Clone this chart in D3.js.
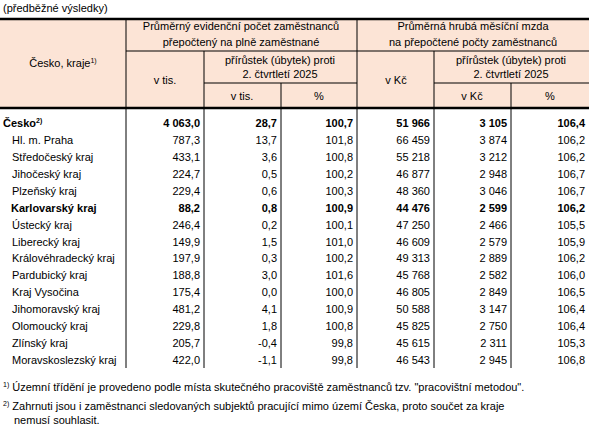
<!DOCTYPE html>
<html><head><meta charset="utf-8">
<script src="https://cdn.jsdelivr.net/npm/d3@7"></script>
<style>body{margin:0;background:#fff}text{font-family:"Liberation Sans",Arial,sans-serif;font-size:11px;fill:#000}</style>
</head><body>
<script>
// data
const regions = ["Česko", "Hl. m. Praha", "Středočeský kraj", "Jihočeský kraj", "Plzeňský kraj", "Karlovarský kraj",
  "Ústecký kraj", "Liberecký kraj", "Královéhradecký kraj", "Pardubický kraj", "Kraj Vysočina",
  "Jihomoravský kraj", "Olomoucký kraj", "Zlínský kraj", "Moravskoslezský kraj"];
const boldRows = ["Česko", "Karlovarský kraj"];
const empTotal = ["4 063,0","787,3","433,1","224,7","229,4","88,2","246,4","149,9","197,9","188,8","175,4","481,2","229,8","205,7","422,0"];
const empDiff = ["28,7","13,7","3,6","0,5","0,6","0,8","0,2","1,5","0,3","3,0","0,0","4,1","1,8","-0,4","-1,1"];
const empPct = ["100,7","101,8","100,8","100,2","100,3","100,9","100,1","101,0","100,2","101,6","100,0","100,9","100,8","99,8","99,8"];
const wage = ["51 966","66 459","55 218","46 877","48 360","44 476","47 250","46 609","49 313","45 768","46 805","50 588","45 825","45 615","46 543"];
const wageDiff = ["3 105","3 874","3 212","2 948","3 046","2 599","2 466","2 579","2 889","2 582","2 849","3 147","2 750","2 311","2 945"];
const wagePct = ["106,4","106,2","106,2","106,7","106,7","106,2","105,5","105,9","106,2","106,0","106,5","106,4","106,4","105,3","106,8"];

const svg = d3.select("body").append("svg").attr("width", 589).attr("height", 429);

// column edges
const colEdges = [0, 126, 204, 281, 357, 434, 511, 589];
const header = {top: 19, r1: 51, r2: 83, bottom: 108};
const y = d3.scaleBand().domain(regions).range([115, 368]);

svg.append("text").attr("x", 3).attr("y", 12).text("(předběžné výsledky)");

svg.append("rect").attr("x", 0).attr("y", header.top).attr("width", 589)
  .attr("height", header.bottom - header.top).attr("fill", "#fce4d6");

function line(x1, y1, x2, y2, w) {
  svg.append("line").attr("x1", x1).attr("y1", y1).attr("x2", x2).attr("y2", y2)
    .attr("stroke", "#000").attr("stroke-width", w || 1);
}
line(0, header.top, 589, header.top, 2.5);
line(0, header.bottom, 589, header.bottom, 2.5);
line(126, header.r1, 589, header.r1);
line(204, header.r2, 357, header.r2);
line(434, header.r2, 589, header.r2);
[126, 357].forEach(x => line(x, header.top, x, 368));
[204, 434].forEach(x => line(x, header.r1, x, 368));
[281, 511].forEach(x => line(x, header.r2, x, 368));

function ctext(x, yy, t) {
  return svg.append("text").attr("x", x).attr("y", yy).attr("text-anchor", "middle").text(t);
}
ctext(241, 30, "Průměrný evidenční počet zaměstnanců");
ctext(241, 46, "přepočtený na plně zaměstnané");
ctext(473, 30, "Průměrná hrubá měsíční mzda");
ctext(473, 46, "na přepočtené počty zaměstnanců");
const ck = ctext(63, 67, "Česko, kraje");
ck.append("tspan").attr("dy", -4).style("font-size", "7px").text("1)");
ctext(165, 84, "v tis.");
ctext(280, 64, "přírůstek (úbytek) proti");
ctext(280, 78, "2. čtvrtletí 2025");
ctext(396, 84, "v Kč");
ctext(511, 64, "přírůstek (úbytek) proti");
ctext(511, 78, "2. čtvrtletí 2025");
ctext(242, 100, "v tis.");
ctext(319, 100, "%");
ctext(472, 100, "v Kč");
ctext(550, 100, "%");

// body
const cols = [empTotal, empDiff, empPct, wage, wageDiff, wagePct];
const rows = svg.selectAll("g.row").data(regions).join("g")
  .attr("transform", d => `translate(0,${y(d) + y.bandwidth() / 2 + 4})`)
  .style("font-weight", d => boldRows.includes(d) ? "bold" : "normal");
rows.append("text").attr("x", (d, i) => i === 0 ? 3 : (d === "Karlovarský kraj" ? 11 : 12))
  .text(d => d)
  .each(function (d, i) {
    if (i === 0) d3.select(this).append("tspan").attr("dy", -4).style("font-size", "7px").text("2)");
  });
cols.forEach((arr, c) => {
  rows.append("text").attr("x", colEdges[c + 2] - 4).attr("text-anchor", "end")
    .text((d, i) => arr[i]);
});

// footnotes
const f1 = svg.append("text").attr("x", 3).attr("y", 391);
f1.append("tspan").attr("dy", -4).style("font-size", "7px").text("1)");
f1.append("tspan").attr("dy", 4).text(" Územní  třídění je  provedeno  podle  místa skutečného pracoviště zaměstnanců tzv. \"pracovištní metodou\".");
const f2 = svg.append("text").attr("x", 3).attr("y", 410);
f2.append("tspan").attr("dy", -4).style("font-size", "7px").text("2)");
f2.append("tspan").attr("dy", 4).text(" Zahrnuti jsou i zaměstnanci sledovaných subjektů pracující mimo území Česka, proto součet za kraje");
svg.append("text").attr("x", 14).attr("y", 424).text("nemusí souhlasit.");
</script>
</body></html>
